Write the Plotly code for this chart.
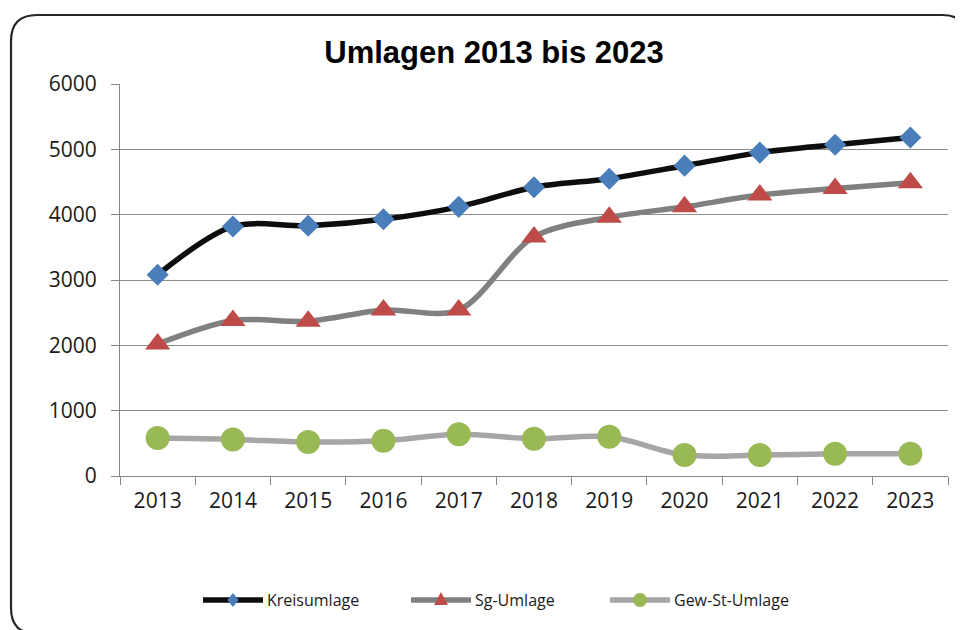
import plotly.graph_objects as go

years = ["2013", "2014", "2015", "2016", "2017", "2018", "2019", "2020", "2021", "2022", "2023"]
kreisumlage = [3080, 3820, 3830, 3930, 4120, 4420, 4550, 4750, 4950, 5070, 5180]
sg_umlage = [2020, 2380, 2370, 2540, 2540, 3660, 3960, 4120, 4300, 4400, 4490]
gew_st_umlage = [580, 560, 520, 540, 640, 570, 600, 320, 320, 340, 340]

title_text = "Umlagen 2013 bis 2023"
y_ticks = [0, 1000, 2000, 3000, 4000, 5000, 6000]

series = [
    ("Kreisumlage", kreisumlage, "#0d0d0d", "diamond", "#4a7ebb", 17),
    ("Sg-Umlage", sg_umlage, "#808080", "triangle-up", "#be4b48", 22),
    ("Gew-St-Umlage", gew_st_umlage, "#a6a6a6", "circle", "#98b954", 24),
]

fig = go.Figure()
for name, vals, lc, sym, mc, ms in series:
    fig.add_trace(go.Scatter(
        x=years, y=vals, mode="lines+markers", name=name, showlegend=False,
        line=dict(color=lc, width=5.5, shape="spline", smoothing=0.9),
        marker=dict(symbol=sym, color=mc, size=ms, line=dict(width=0)),
    ))

OFF = 8  # page body margin
W, H = 963, 630
sL, sR, sT, sB = 120, 948, 84, 476
L, T = sL - OFF, sT - OFF
R = W - (sR - OFF)
B = H - (sB - OFF)
pw, ph = W - L - R, H - T - B

def px(x):
    return (x - OFF - L) / pw

def py(y):
    return (H - B - (y - OFF)) / ph

# rounded frame (screen coords)
x0, x1, y0, y1, r = 11, 968, 15, 634, 26
rx, ry = r / pw, r / ph
X0, X1, Y0, Y1 = px(x0), px(x1), py(y0), py(y1)
path = (f"M {X0+rx} {Y0} L {X1-rx} {Y0} Q {X1} {Y0} {X1} {Y0-ry} "
        f"L {X1} {Y1+ry} Q {X1} {Y1} {X1-rx} {Y1} "
        f"L {X0+rx} {Y1} Q {X0} {Y1} {X0} {Y1+ry} "
        f"L {X0} {Y0-ry} Q {X0} {Y0} {X0+rx} {Y0} Z")
fig.add_shape(type="path", path=path, xref="paper", yref="paper",
              line=dict(color="#262626", width=2.2), layer="above")

# manual legend (screen positions)
leg_y = 600
leg_starts = [203, 411, 610]
seg_len = 60
for (name, vals, lc, sym, mc, ms), lx in zip(series, leg_starts):
    fig.add_shape(type="line", xref="paper", yref="paper",
                  x0=px(lx), x1=px(lx + seg_len), y0=py(leg_y), y1=py(leg_y),
                  line=dict(color=lc, width=5.5))
    cx = lx + seg_len / 2
    if sym == "diamond":
        d = 7
        p = (f"M {px(cx)} {py(leg_y - d)} L {px(cx + d*0.8)} {py(leg_y)} "
             f"L {px(cx)} {py(leg_y + d)} L {px(cx - d*0.8)} {py(leg_y)} Z")
        fig.add_shape(type="path", path=p, xref="paper", yref="paper",
                      fillcolor=mc, line=dict(width=0))
    elif sym == "triangle-up":
        p = (f"M {px(cx)} {py(leg_y - 8)} L {px(cx + 7)} {py(leg_y + 5)} "
             f"L {px(cx - 7)} {py(leg_y + 5)} Z")
        fig.add_shape(type="path", path=p, xref="paper", yref="paper",
                      fillcolor=mc, line=dict(width=0))
    else:
        rr = 7
        fig.add_shape(type="circle", xref="paper", yref="paper",
                      x0=px(cx - rr), x1=px(cx + rr), y0=py(leg_y - rr), y1=py(leg_y + rr),
                      fillcolor=mc, line=dict(width=0))
    fig.add_annotation(text=name, xref="paper", yref="paper",
                       x=px(lx + seg_len + 2), y=py(leg_y), xanchor="left", yanchor="middle",
                       showarrow=False,
                       font=dict(family="Open Sans, sans-serif", size=16, color="#1a1a1a"))

tickfont = dict(family="Open Sans, sans-serif", size=21, color="#1a1a1a")

fig.update_layout(
    width=W, height=H,
    margin=dict(l=L, r=R, t=T, b=B),
    paper_bgcolor="white", plot_bgcolor="white",
    showlegend=False,
    title=dict(text=f"<b>{title_text}</b>", x=(494 - OFF) / W, xanchor="center",
               y=1 - (52 - OFF) / H, yanchor="middle",
               font=dict(family="Liberation Sans, Arial, sans-serif", size=31, color="black")),
    xaxis=dict(type="category", range=[-0.5, 10.5], tickson="boundaries",
               ticks="outside", ticklen=8, tickcolor="#868686", tickwidth=1,
               showline=True, linecolor="#868686", linewidth=1,
               showgrid=False, tickfont=tickfont, ticklabelstandoff=6),
    yaxis=dict(range=[0, 6000], tickvals=y_ticks, ticks="outside", ticklen=8,
               tickcolor="#868686", tickwidth=1, showline=True, linecolor="#868686",
               linewidth=1, showgrid=True, gridcolor="#8c8c8c", gridwidth=1,
               zeroline=False, tickfont=tickfont, ticklabelstandoff=10),
)

fig.write_html("out.html")
